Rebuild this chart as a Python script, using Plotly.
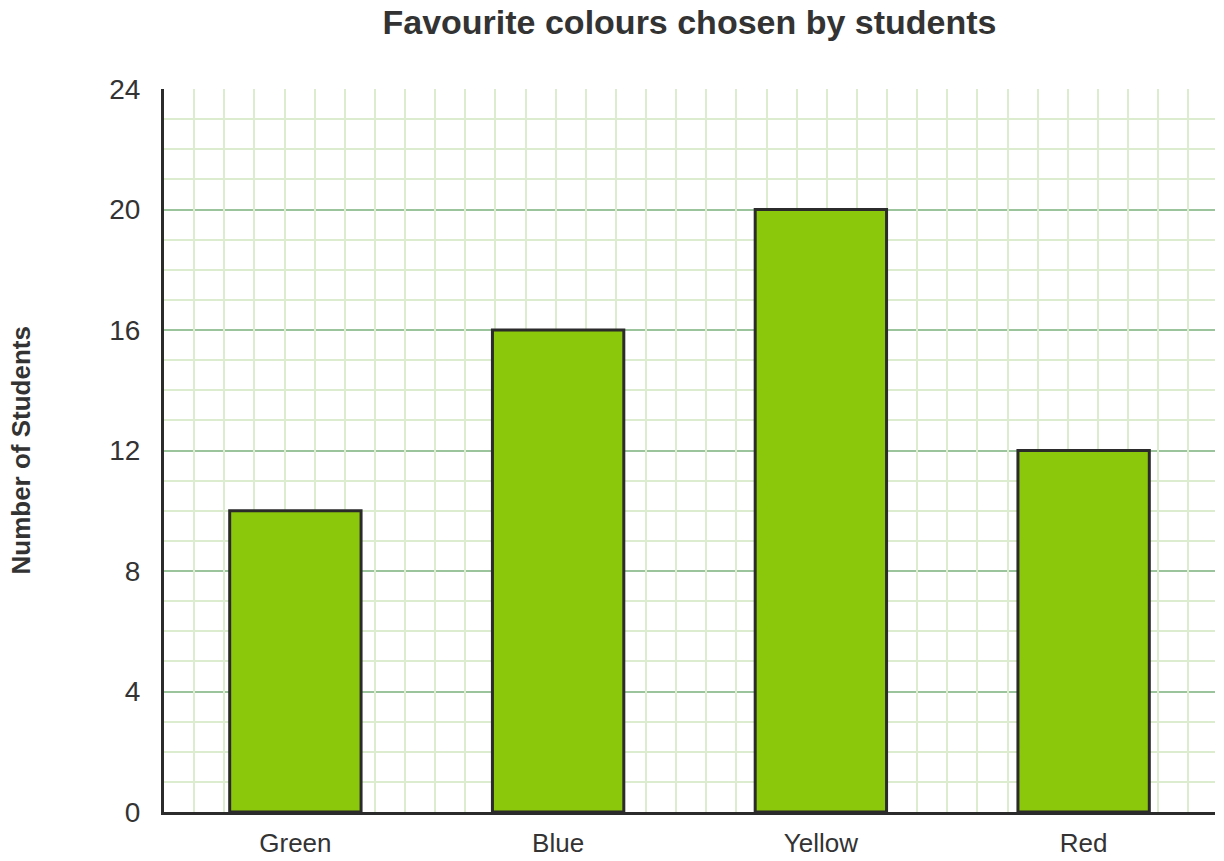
import plotly.graph_objects as go

categories = ["Green", "Blue", "Yellow", "Red"]
students = [10, 16, 20, 12]
y_ticks = [0, 4, 8, 12, 16, 20, 24]

fig = go.Figure()
fig.add_trace(go.Bar(
    x=categories, y=students,
    marker=dict(color="#8bc70a", line=dict(color="#2b2b2b", width=3)),
    hoverinfo="x+y",
))
# invisible trace to activate the vertical grid axis
fig.add_trace(go.Scatter(x=[0], y=[0], xaxis="x2", mode="markers",
                         marker=dict(opacity=0), showlegend=False, hoverinfo="skip"))

W, H = 1224, 861
L, R, T, B = 164, 9, 89, 49
plot_w = W - L - R
unit_px = (H - T - B) / 24.0

fig.update_layout(
    width=W, height=H,
    margin=dict(l=L, r=R, t=T, b=B, pad=0, autoexpand=False),
    paper_bgcolor="white", plot_bgcolor="white",
    showlegend=False, bargap=0.5,
    font=dict(family="Liberation Sans, Arial, sans-serif", color="#333333"),
    title=dict(text="<b>Favourite colours chosen by students</b>",
               x=0.5, xref="paper", y=1 - 22 / H, yanchor="middle",
               font=dict(size=34, color="#333333")),
    xaxis=dict(type="category", range=[-0.5, 3.5], showgrid=False, zeroline=False,
               showline=True, linecolor="#2b2b2b", linewidth=3, automargin=False,
               tickfont=dict(size=26, color="#333333"), ticks="", ticklabelstandoff=6),
    xaxis2=dict(overlaying="x", anchor="y", range=[0, plot_w / unit_px], dtick=1,
                showgrid=True, gridcolor="#dcedcf", gridwidth=1.5, automargin=False,
                showticklabels=False, zeroline=False, showline=False, ticks=""),
    yaxis=dict(range=[0, 24], tickvals=y_ticks, showgrid=True,
               gridcolor="#9cc49c", gridwidth=2, zeroline=False, automargin=False,
               showline=True, linecolor="#2b2b2b", linewidth=3,
               minor=dict(dtick=1, showgrid=True, gridcolor="#dcedcf", gridwidth=1.5),
               tickfont=dict(size=28, color="#333333"), ticks="", ticklabelstandoff=15),
    annotations=[dict(text="<b>Number of Students</b>", textangle=-90,
                      x=0, xref="paper", xanchor="center", xshift=-(164 - 20),
                      y=0.5, yref="paper", yanchor="middle", showarrow=False,
                      font=dict(size=26, color="#333333"))],
)

fig.write_html("out.html", config={"displayModeBar": False},
               post_script="document.body.style.margin='0px';document.body.style.overflow='hidden';")
